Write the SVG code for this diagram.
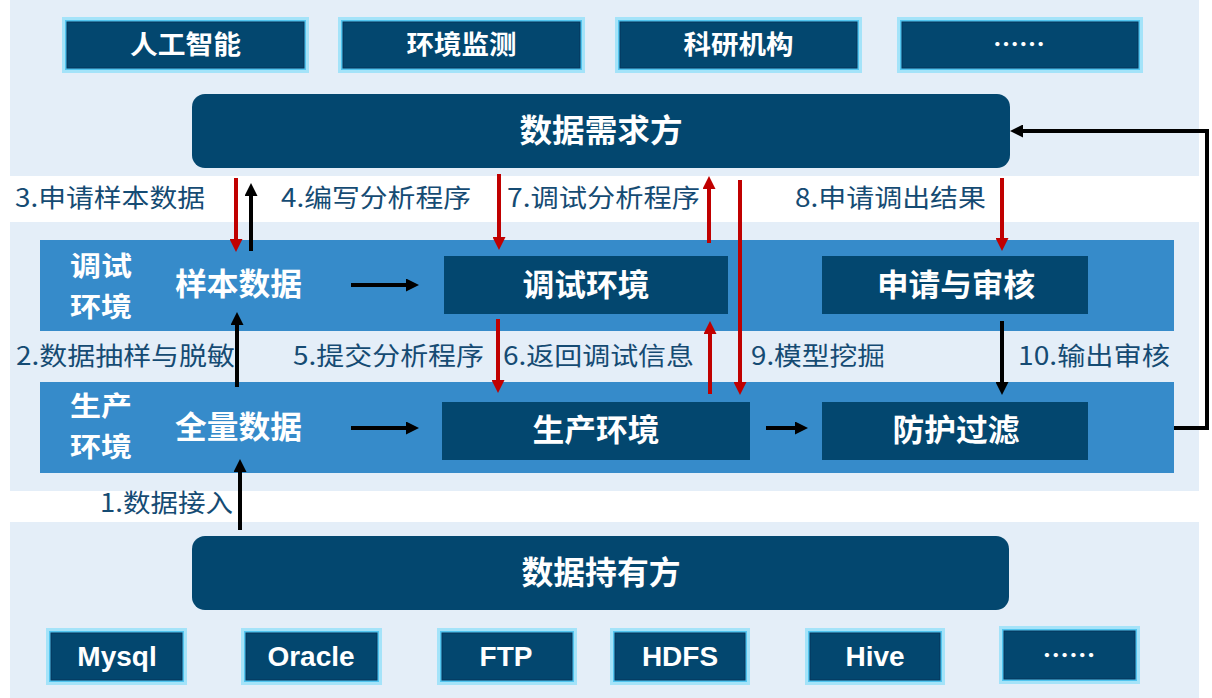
<svg xmlns="http://www.w3.org/2000/svg" width="1212" height="698" viewBox="0 0 1212 698">
<style>
.band{fill:#e4eef8}
.env{fill:#368bca}
.dark{fill:#03476f}
.o1{fill:#a4e3f9}
.o2{fill:#52c5ef}
.o3{fill:#03476f;stroke:#07355a;stroke-width:1}
.nt{font-family:"Noto Sans CJK SC","Noto Sans",sans-serif;font-weight:bold;fill:#ffffff;text-anchor:middle;dominant-baseline:central}
.lt{font-family:"Liberation Sans","Noto Sans",sans-serif;font-weight:bold;fill:#ffffff;text-anchor:middle;font-size:28px}
.lb{font-family:"Noto Sans CJK SC","Noto Sans",sans-serif;fill:#154b73;font-size:25px;dominant-baseline:central}
.bk{stroke:#000000;stroke-width:4;fill:none}
.rd{stroke:#c00000;stroke-width:4;fill:none}
</style>
<defs>
<marker id="hb" markerUnits="userSpaceOnUse" markerWidth="13" markerHeight="13" refX="2" refY="6.5" orient="auto"><path d="M0,0 L13,6.5 L0,13 z" fill="#000000"/></marker>
<marker id="hr" markerUnits="userSpaceOnUse" markerWidth="13" markerHeight="13" refX="2" refY="6.5" orient="auto"><path d="M0,0 L13,6.5 L0,13 z" fill="#c00000"/></marker>
</defs>
<rect width="1212" height="698" fill="#ffffff"/>
<g id="bands">
<rect class="band" x="10" y="0" width="1189" height="176"/>
<rect class="band" x="10" y="222" width="1189" height="269"/>
<rect class="band" x="10" y="522" width="1189" height="176"/>
<rect class="env" x="40" y="240" width="1134" height="91"/>
<rect class="env" x="40" y="382" width="1134" height="91"/>
</g>
<g id="top-ai">
<rect class="o1" x="62" y="17" width="247" height="56"/><rect class="o2" x="65" y="20" width="241" height="50"/><rect class="o3" x="67" y="22" width="237" height="46"/>
<text class="nt" x="185.5" y="42" font-size="26" textLength="111" lengthAdjust="spacingAndGlyphs">人工智能</text>
</g>
<g id="top-env">
<rect class="o1" x="338" y="17" width="247" height="56"/><rect class="o2" x="341" y="20" width="241" height="50"/><rect class="o3" x="343" y="22" width="237" height="46"/>
<text class="nt" x="461.5" y="42" font-size="26" textLength="110" lengthAdjust="spacingAndGlyphs">环境监测</text>
</g>
<g id="top-sci">
<rect class="o1" x="615" y="17" width="247" height="56"/><rect class="o2" x="618" y="20" width="241" height="50"/><rect class="o3" x="620" y="22" width="237" height="46"/>
<text class="nt" x="738.5" y="42" font-size="26" textLength="110" lengthAdjust="spacingAndGlyphs">科研机构</text>
</g>
<g id="top-more">
<rect class="o1" x="897" y="17" width="246" height="56"/><rect class="o2" x="900" y="20" width="240" height="50"/><rect class="o3" x="902" y="22" width="236" height="46"/>
<text class="nt" x="1019" y="42" font-size="26" textLength="52" lengthAdjust="spacingAndGlyphs">……</text>
</g>
<g id="demand">
<rect class="dark" x="192" y="94" width="818" height="74" rx="13"/>
<text class="nt" x="601" y="128" font-size="32" textLength="163" lengthAdjust="spacingAndGlyphs">数据需求方</text>
</g>
<g id="debug-label">
<text class="nt" font-size="27"><tspan x="101" y="264" textLength="62" lengthAdjust="spacingAndGlyphs">调试</tspan><tspan x="101" y="305" textLength="62" lengthAdjust="spacingAndGlyphs">环境</tspan></text>
</g>
<g id="prod-label">
<text class="nt" font-size="27"><tspan x="101" y="404" textLength="62" lengthAdjust="spacingAndGlyphs">生产</tspan><tspan x="101" y="445" textLength="62" lengthAdjust="spacingAndGlyphs">环境</tspan></text>
</g>
<g id="sample">
<text class="nt" x="238.5" y="281" font-size="31" textLength="127" lengthAdjust="spacingAndGlyphs">样本数据</text>
</g>
<g id="full">
<text class="nt" x="238.5" y="424" font-size="31" textLength="127" lengthAdjust="spacingAndGlyphs">全量数据</text>
</g>
<g id="debug-env">
<rect class="dark" x="444" y="256" width="284" height="58"/>
<text class="nt" x="586" y="282" font-size="31" textLength="127" lengthAdjust="spacingAndGlyphs">调试环境</text>
</g>
<g id="apply">
<rect class="dark" x="822" y="256" width="266" height="58"/>
<text class="nt" x="956" y="282" font-size="31" textLength="158" lengthAdjust="spacingAndGlyphs">申请与审核</text>
</g>
<g id="prod-env">
<rect class="dark" x="442" y="402" width="308" height="58"/>
<text class="nt" x="596" y="427" font-size="31" textLength="127" lengthAdjust="spacingAndGlyphs">生产环境</text>
</g>
<g id="filter">
<rect class="dark" x="822" y="402" width="266" height="58"/>
<text class="nt" x="956" y="427" font-size="31" textLength="127" lengthAdjust="spacingAndGlyphs">防护过滤</text>
</g>
<g id="owner">
<rect class="dark" x="192" y="536" width="817" height="74" rx="13"/>
<text class="nt" x="601" y="570" font-size="32" textLength="159" lengthAdjust="spacingAndGlyphs">数据持有方</text>
</g>
<g id="src-mysql">
<rect class="o1" x="46" y="628" width="141" height="57"/><rect class="o2" x="49" y="631" width="135" height="51"/><rect class="o3" x="51" y="633" width="131" height="47"/>
<text class="lt" x="117" y="666">Mysql</text>
</g>
<g id="src-oracle">
<rect class="o1" x="241" y="628" width="141" height="57"/><rect class="o2" x="244" y="631" width="135" height="51"/><rect class="o3" x="246" y="633" width="131" height="47"/>
<text class="lt" x="311" y="666">Oracle</text>
</g>
<g id="src-ftp">
<rect class="o1" x="437" y="628" width="140" height="57"/><rect class="o2" x="440" y="631" width="134" height="51"/><rect class="o3" x="442" y="633" width="130" height="47"/>
<text class="lt" x="506" y="666">FTP</text>
</g>
<g id="src-hdfs">
<rect class="o1" x="610" y="628" width="140" height="57"/><rect class="o2" x="613" y="631" width="134" height="51"/><rect class="o3" x="615" y="633" width="130" height="47"/>
<text class="lt" x="680" y="666">HDFS</text>
</g>
<g id="src-hive">
<rect class="o1" x="805" y="628" width="140" height="57"/><rect class="o2" x="808" y="631" width="134" height="51"/><rect class="o3" x="810" y="633" width="130" height="47"/>
<text class="lt" x="875" y="666">Hive</text>
</g>
<g id="src-more">
<rect class="o1" x="999" y="626" width="141" height="58"/><rect class="o2" x="1002" y="629" width="135" height="52"/><rect class="o3" x="1004" y="631" width="131" height="48"/>
<text class="nt" x="1069" y="653" font-size="26" textLength="53" lengthAdjust="spacingAndGlyphs">……</text>
</g>
<g id="connectors">
<path class="rd" d="M236,178 V241" marker-end="url(#hr)"/>
<path class="bk" d="M251,251 V194" marker-end="url(#hb)"/>
<path class="rd" d="M499,174 V239" marker-end="url(#hr)"/>
<path class="rd" d="M709,243 V187" marker-end="url(#hr)"/>
<path class="rd" d="M740,180 V384" marker-end="url(#hr)"/>
<path class="rd" d="M1002,178 V240" marker-end="url(#hr)"/>
<path class="rd" d="M498,319 V382" marker-end="url(#hr)"/>
<path class="rd" d="M710,394 V332" marker-end="url(#hr)"/>
<path class="bk" d="M237,387 V323" marker-end="url(#hb)"/>
<path class="bk" d="M1002,321 V384" marker-end="url(#hb)"/>
<path class="bk" d="M240,530 V470" marker-end="url(#hb)"/>
<path class="bk" d="M351,285 H408" marker-end="url(#hb)"/>
<path class="bk" d="M351,428 H408" marker-end="url(#hb)"/>
<path class="bk" d="M766,428 H797" marker-end="url(#hb)"/>
<path class="bk" d="M1174,428 H1207 V131 H1021" marker-end="url(#hb)"/>
</g>
<g id="labels">
<text class="lb" x="15" y="196" textLength="190" lengthAdjust="spacingAndGlyphs">3.申请样本数据</text>
<text class="lb" x="281" y="196" textLength="190" lengthAdjust="spacingAndGlyphs">4.编写分析程序</text>
<text class="lb" x="507" y="196" textLength="193" lengthAdjust="spacingAndGlyphs">7.调试分析程序</text>
<text class="lb" x="795" y="196" textLength="191" lengthAdjust="spacingAndGlyphs">8.申请调出结果</text>
<text class="lb" x="16" y="354" textLength="219" lengthAdjust="spacingAndGlyphs">2.数据抽样与脱敏</text>
<text class="lb" x="293" y="354" textLength="191" lengthAdjust="spacingAndGlyphs">5.提交分析程序</text>
<text class="lb" x="503" y="354" textLength="191" lengthAdjust="spacingAndGlyphs">6.返回调试信息</text>
<text class="lb" x="751" y="354" textLength="134" lengthAdjust="spacingAndGlyphs">9.模型挖掘</text>
<text class="lb" x="1018" y="354" textLength="152" lengthAdjust="spacingAndGlyphs">10.输出审核</text>
<text class="lb" x="100" y="501" textLength="133" lengthAdjust="spacingAndGlyphs">1.数据接入</text>
</g>
</svg>
